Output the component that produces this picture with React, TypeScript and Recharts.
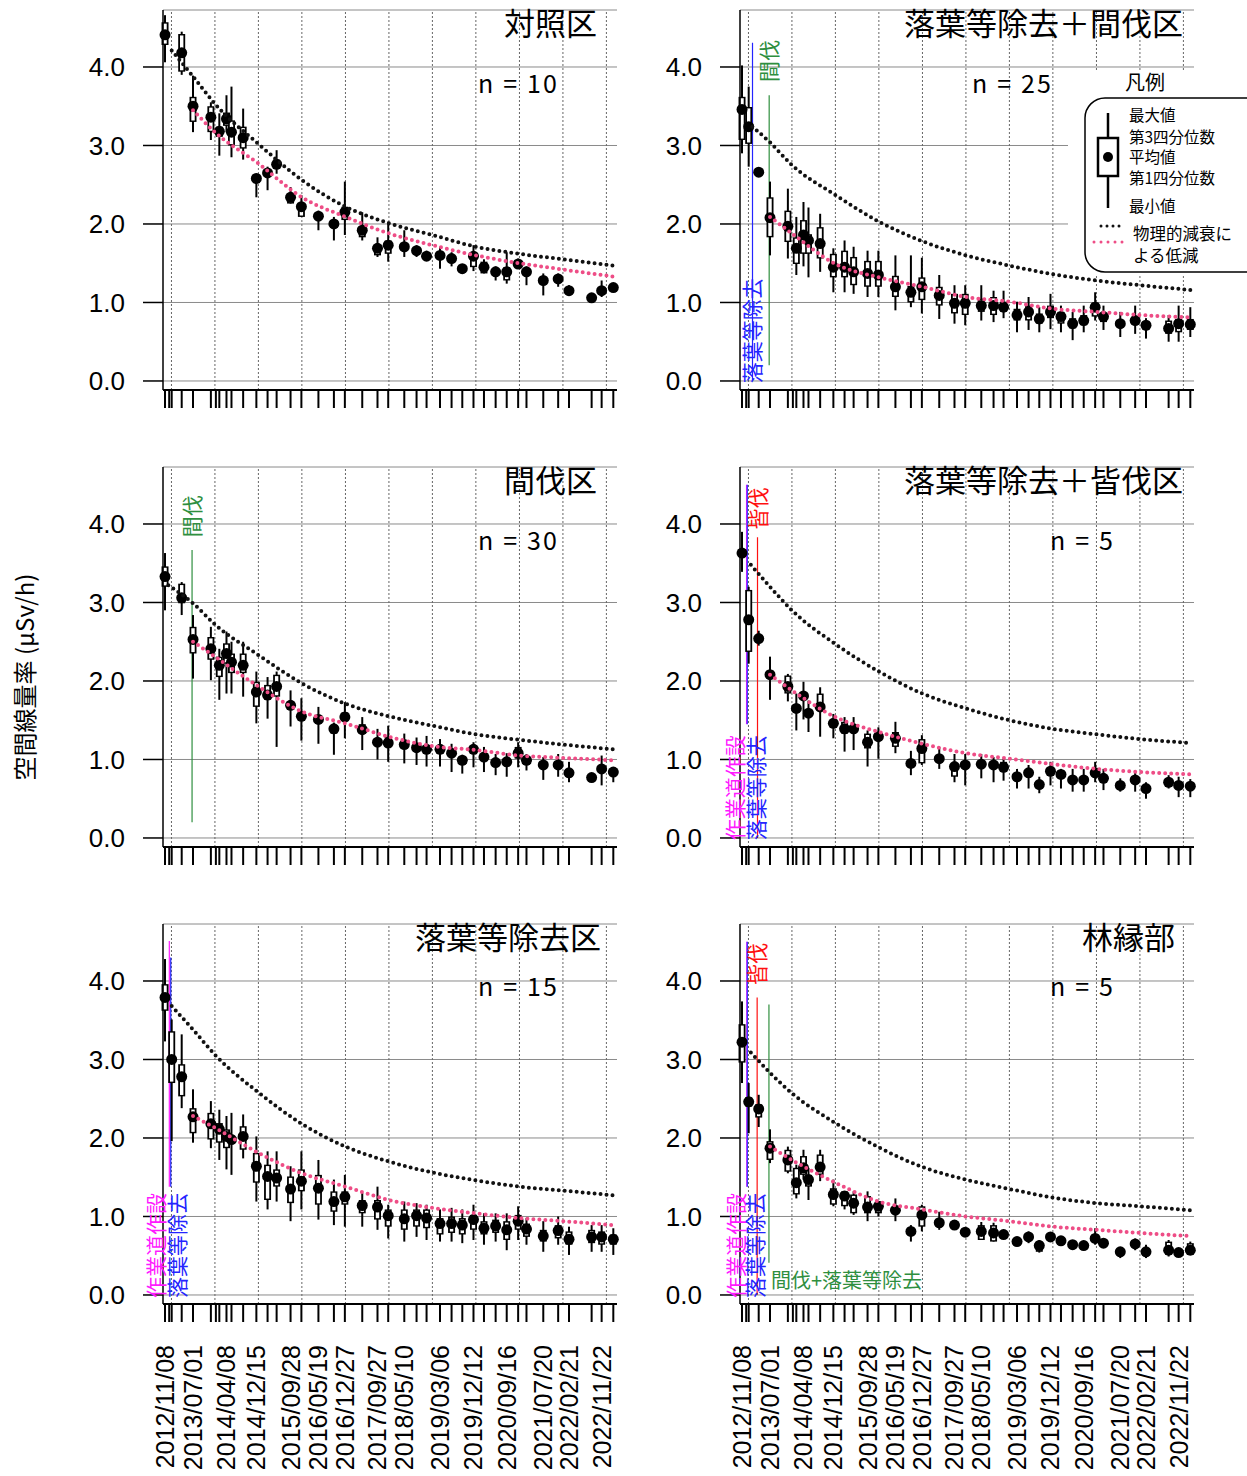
import React from 'react';
import {
  ComposedChart,
  XAxis,
  YAxis,
  CartesianGrid,
  Scatter,
  ErrorBar,
  Line,
  ReferenceLine,
} from 'recharts';

// measurement dates (one tick each)
const measureDates = [
  '2012/11/08', '2012/12/13', '2013/01/03', '2013/03/28', '2013/07/01', '2013/11/28', '2014/01/09', '2014/02/07', '2014/04/08', '2014/05/20',
  '2014/08/26', '2014/12/15', '2015/03/19', '2015/06/03', '2015/09/28', '2015/12/28', '2016/05/19', '2016/09/26', '2016/12/27', '2017/05/22',
  '2017/09/27', '2017/12/26', '2018/05/10', '2018/08/21', '2018/11/13', '2019/03/06', '2019/06/11', '2019/09/09', '2019/12/12', '2020/03/09',
  '2020/06/15', '2020/09/16', '2020/12/21', '2021/03/01', '2021/07/20', '2021/11/22', '2022/02/21', '2022/08/30', '2022/11/22', '2023/02/28',
];

const labelDates = [
  '2012/11/08', '2013/07/01', '2014/04/08', '2014/12/15', '2015/09/28', '2016/05/19', '2016/12/27', '2017/09/27',
  '2018/05/10', '2019/03/06', '2019/12/12', '2020/09/16', '2021/07/20', '2022/02/21', '2022/11/22',
];

const yearDates = [
  '2013/01/01', '2014/01/01', '2015/01/01', '2016/01/01', '2017/01/01', '2018/01/01',
  '2019/01/01', '2020/01/01', '2021/01/01', '2022/01/01', '2023/01/01',
];

const yTicks = [0, 1, 2, 3, 4];

// [min, q1, mean, q3, max]
type Stat = [number, number, number, number, number] | null;

const ctrlStats: Stat[] = [
  [4.06, 4.28, 4.41, 4.57, 4.66], null, null, [3.90, 3.94, 4.18, 4.42, 4.45], [3.17, 3.30, 3.50, 3.62, 3.89],
  [3.07, 3.17, 3.36, 3.50, 3.55], null, [2.87, 3.11, 3.18, 3.24, 3.41], [3.17, 3.25, 3.34, 3.42, 3.64], [2.85, 3.00, 3.17, 3.32, 3.75],
  [2.82, 2.96, 3.10, 3.24, 3.47], [2.34, 2.52, 2.58, 2.63, 2.64], [2.43, 2.60, 2.65, 2.70, 2.73], [2.64, 2.72, 2.76, 2.82, 2.94], [2.26, 2.26, 2.34, 2.39, 2.47],
  [2.09, 2.09, 2.22, 2.26, 2.37], [1.92, 2.06, 2.10, 2.14, 2.17], [1.79, 1.95, 2.00, 2.05, 2.09], [1.86, 2.05, 2.15, 2.22, 2.54], [1.79, 1.83, 1.92, 1.96, 2.15],
  [1.58, 1.60, 1.69, 1.73, 1.83], [1.52, 1.62, 1.73, 1.79, 2.03], [1.58, 1.66, 1.71, 1.75, 1.92], [1.58, 1.62, 1.66, 1.70, 1.73], [1.53, 1.56, 1.59, 1.62, 1.66],
  [1.43, 1.56, 1.60, 1.64, 1.71], [1.46, 1.53, 1.56, 1.59, 1.64], [1.38, 1.40, 1.43, 1.46, 1.48], [1.40, 1.45, 1.59, 1.64, 1.73], [1.37, 1.37, 1.45, 1.52, 1.55],
  [1.28, 1.36, 1.39, 1.42, 1.46], [1.24, 1.28, 1.39, 1.45, 1.64], [1.45, 1.46, 1.49, 1.52, 1.56], [1.22, 1.34, 1.39, 1.42, 1.46], [1.09, 1.24, 1.28, 1.32, 1.37],
  [1.20, 1.27, 1.30, 1.33, 1.37], [1.09, 1.12, 1.15, 1.18, 1.22], [1.00, 1.03, 1.06, 1.09, 1.11], [1.07, 1.12, 1.15, 1.18, 1.28], [1.15, 1.16, 1.19, 1.22, 1.24],
];

const litterThinStats: Stat[] = [
  [2.90, 3.07, 3.46, 3.62, 4.02], null, [2.73, 3.02, 3.24, 3.49, 3.75], [2.60, 2.63, 2.66, 2.69, 2.72], [1.60, 1.83, 2.08, 2.34, 2.54],
  [1.56, 1.77, 1.97, 2.17, 2.45], null, [1.35, 1.49, 1.69, 1.83, 2.09], [1.46, 1.62, 1.86, 2.05, 2.28], [1.32, 1.62, 1.79, 1.87, 2.21],
  [1.39, 1.56, 1.75, 1.96, 2.13], [1.13, 1.32, 1.45, 1.62, 1.69], [1.13, 1.32, 1.45, 1.66, 1.79], [1.11, 1.22, 1.39, 1.58, 1.71], [1.07, 1.20, 1.37, 1.53, 1.66],
  [1.07, 1.20, 1.35, 1.53, 1.66], [0.90, 1.07, 1.20, 1.34, 1.60], [0.94, 1.00, 1.13, 1.21, 1.60], [0.86, 1.03, 1.20, 1.32, 1.57], [0.79, 0.96, 1.09, 1.20, 1.35],
  [0.73, 0.86, 0.99, 1.11, 1.22], [0.71, 0.84, 0.99, 1.11, 1.22], [0.77, 0.88, 0.96, 1.05, 1.22], [0.75, 0.84, 0.96, 1.07, 1.15], [0.80, 0.88, 0.94, 1.01, 1.15],
  [0.62, 0.77, 0.84, 0.92, 1.01], [0.65, 0.77, 0.88, 0.96, 1.07], [0.62, 0.73, 0.79, 0.86, 0.94], [0.66, 0.80, 0.88, 0.96, 1.11], [0.62, 0.73, 0.82, 0.88, 0.96],
  [0.52, 0.67, 0.73, 0.80, 0.88], [0.62, 0.71, 0.77, 0.84, 0.96], [0.77, 0.82, 0.94, 1.00, 1.13], [0.65, 0.75, 0.82, 0.86, 0.96], [0.56, 0.69, 0.73, 0.77, 0.88],
  [0.60, 0.72, 0.77, 0.82, 0.96], [0.54, 0.67, 0.71, 0.75, 0.80], [0.50, 0.60, 0.67, 0.77, 0.84], [0.50, 0.62, 0.73, 0.79, 0.96], [0.56, 0.65, 0.72, 0.79, 0.94],
];

const thinStats: Stat[] = [
  [2.90, 3.20, 3.33, 3.46, 3.63], null, null, [2.84, 2.99, 3.06, 3.24, 3.26], [2.03, 2.35, 2.53, 2.69, 2.84],
  [2.01, 2.27, 2.41, 2.56, 2.69], null, [1.76, 2.05, 2.20, 2.31, 2.41], [1.84, 2.22, 2.35, 2.48, 2.63], [1.84, 2.10, 2.24, 2.35, 2.50],
  [1.80, 2.10, 2.20, 2.35, 2.50], [1.46, 1.67, 1.86, 1.99, 2.12], [1.52, 1.76, 1.82, 1.95, 2.05], [1.16, 1.80, 1.93, 2.08, 2.12], [1.42, 1.64, 1.69, 1.74, 1.88],
  [1.24, 1.50, 1.55, 1.60, 1.78], [1.20, 1.46, 1.51, 1.56, 1.67], [1.06, 1.33, 1.39, 1.44, 1.47], [1.27, 1.50, 1.54, 1.60, 1.73], [1.12, 1.33, 1.38, 1.45, 1.54],
  [1.00, 1.18, 1.22, 1.26, 1.39], [0.97, 1.16, 1.21, 1.29, 1.43], [0.95, 1.15, 1.19, 1.23, 1.33], [0.93, 1.11, 1.15, 1.19, 1.28], [0.91, 1.09, 1.13, 1.17, 1.30],
  [0.91, 1.09, 1.13, 1.17, 1.26], [0.84, 1.04, 1.08, 1.12, 1.20], [0.82, 0.95, 0.99, 1.03, 1.06], [0.90, 1.08, 1.13, 1.18, 1.22], [0.84, 0.99, 1.03, 1.07, 1.16],
  [0.80, 0.92, 0.96, 1.00, 1.07], [0.78, 0.93, 0.97, 1.01, 1.08], [0.90, 1.01, 1.08, 1.16, 1.22], [0.86, 0.95, 0.99, 1.03, 1.07], [0.74, 0.89, 0.93, 0.97, 1.03],
  [0.78, 0.89, 0.93, 0.97, 1.07], [0.71, 0.79, 0.83, 0.87, 0.97], [0.71, 0.74, 0.77, 0.80, 0.82], [0.67, 0.84, 0.88, 0.92, 1.05], [0.71, 0.80, 0.84, 0.88, 0.90],
];

const litterClearStats: Stat[] = [
  [3.39, 3.58, 3.63, 3.68, 3.90], null, [2.22, 2.37, 2.78, 3.16, 3.20], [2.45, 2.50, 2.54, 2.58, 2.64], [1.76, 2.03, 2.08, 2.13, 2.31],
  [1.74, 1.84, 1.93, 2.07, 2.09], null, [1.37, 1.60, 1.65, 1.70, 1.84], [1.51, 1.76, 1.81, 1.86, 1.99], [1.35, 1.55, 1.59, 1.63, 1.75],
  [1.29, 1.63, 1.67, 1.84, 1.92], [1.27, 1.42, 1.46, 1.50, 1.58], [1.10, 1.33, 1.39, 1.48, 1.54], [1.12, 1.35, 1.39, 1.43, 1.54], [0.91, 1.14, 1.22, 1.33, 1.37],
  [1.01, 1.25, 1.29, 1.33, 1.41], [1.08, 1.16, 1.27, 1.35, 1.48], [0.80, 0.91, 0.95, 0.99, 1.11], [0.93, 0.95, 1.14, 1.26, 1.31], [0.88, 0.97, 1.01, 1.05, 1.16],
  [0.71, 0.78, 0.91, 0.93, 1.07], [0.67, 0.89, 0.93, 0.97, 1.07], [0.76, 0.90, 0.94, 0.98, 1.07], [0.71, 0.89, 0.93, 0.97, 1.03], [0.73, 0.84, 0.90, 0.97, 1.01],
  [0.63, 0.74, 0.78, 0.82, 0.88], [0.63, 0.79, 0.83, 0.87, 0.93], [0.57, 0.64, 0.68, 0.72, 0.78], [0.67, 0.81, 0.85, 0.89, 0.97], [0.63, 0.77, 0.81, 0.85, 0.88],
  [0.59, 0.70, 0.74, 0.78, 0.88], [0.59, 0.70, 0.74, 0.78, 0.88], [0.71, 0.79, 0.83, 0.87, 0.97], [0.61, 0.72, 0.76, 0.80, 0.88], [0.59, 0.63, 0.67, 0.71, 0.76],
  [0.59, 0.70, 0.74, 0.78, 0.84], [0.50, 0.59, 0.63, 0.67, 0.71], [0.63, 0.67, 0.71, 0.75, 0.80], [0.52, 0.63, 0.67, 0.71, 0.78], [0.52, 0.62, 0.66, 0.70, 0.75],
];

const litterStats: Stat[] = [
  [3.23, 3.62, 3.79, 3.96, 4.28], null, [1.96, 2.70, 3.00, 3.36, 3.51], [2.38, 2.53, 2.78, 2.94, 3.32], [1.94, 2.06, 2.27, 2.38, 2.62],
  [1.87, 1.98, 2.18, 2.32, 2.47], null, [1.72, 1.94, 2.11, 2.19, 2.36], [1.60, 1.87, 2.02, 2.11, 2.28], [1.53, 1.93, 1.98, 2.03, 2.32],
  [1.74, 1.85, 2.02, 2.15, 2.30], [1.19, 1.43, 1.64, 1.81, 2.02], [1.09, 1.21, 1.51, 1.66, 1.83], [1.19, 1.38, 1.49, 1.60, 1.83], [0.94, 1.17, 1.35, 1.51, 1.64],
  [1.09, 1.32, 1.45, 1.60, 1.83], [0.96, 1.15, 1.36, 1.53, 1.72], [0.89, 1.06, 1.19, 1.32, 1.47], [0.87, 1.15, 1.25, 1.32, 1.53], [0.87, 1.04, 1.14, 1.21, 1.30],
  [0.83, 0.96, 1.12, 1.21, 1.38], [0.72, 0.87, 1.01, 1.09, 1.15], [0.68, 0.83, 0.97, 1.09, 1.19], [0.74, 0.87, 1.01, 1.09, 1.17], [0.70, 0.85, 0.98, 1.09, 1.15],
  [0.68, 0.77, 0.91, 0.98, 1.09], [0.68, 0.79, 0.91, 1.00, 1.11], [0.66, 0.77, 0.89, 0.98, 1.09], [0.70, 0.83, 0.96, 1.02, 1.15], [0.64, 0.77, 0.85, 0.94, 1.04],
  [0.68, 0.79, 0.88, 0.96, 1.04], [0.57, 0.70, 0.83, 0.94, 1.04], [0.70, 0.83, 0.94, 1.02, 1.13], [0.64, 0.74, 0.84, 0.91, 0.98], [0.55, 0.68, 0.75, 0.83, 0.94],
  [0.64, 0.72, 0.82, 0.89, 1.00], [0.51, 0.64, 0.71, 0.81, 0.87], [0.55, 0.66, 0.74, 0.83, 0.89], [0.55, 0.64, 0.74, 0.81, 0.89], [0.51, 0.64, 0.71, 0.77, 0.85],
];

const edgeStats: Stat[] = [
  [2.70, 2.96, 3.22, 3.45, 3.74], null, [2.06, 2.40, 2.46, 2.52, 2.70], [2.14, 2.26, 2.37, 2.43, 2.55], [1.68, 1.72, 1.87, 1.96, 2.11],
  [1.55, 1.57, 1.72, 1.85, 1.89], null, [1.23, 1.28, 1.43, 1.62, 1.66], [1.47, 1.53, 1.62, 1.77, 1.85], [1.21, 1.38, 1.47, 1.53, 1.62],
  [1.45, 1.53, 1.63, 1.79, 1.85], [1.13, 1.15, 1.28, 1.36, 1.47], [1.09, 1.13, 1.26, 1.32, 1.32], [1.02, 1.04, 1.17, 1.28, 1.32], [0.94, 1.04, 1.12, 1.26, 1.32],
  [1.00, 1.04, 1.13, 1.19, 1.19], [0.94, 1.04, 1.08, 1.12, 1.23], [0.68, 0.77, 0.81, 0.85, 0.89], [0.81, 0.87, 1.02, 1.13, 1.15], [0.83, 0.88, 0.92, 0.96, 1.06],
  [0.85, 0.86, 0.89, 0.92, 0.94], [0.76, 0.77, 0.80, 0.83, 0.85], [0.70, 0.70, 0.81, 0.89, 0.93], [0.68, 0.68, 0.79, 0.89, 0.92], [0.72, 0.74, 0.77, 0.80, 0.83],
  [0.64, 0.65, 0.68, 0.71, 0.73], [0.66, 0.70, 0.74, 0.78, 0.81], [0.54, 0.55, 0.63, 0.68, 0.70], [0.70, 0.71, 0.74, 0.77, 0.80], [0.63, 0.66, 0.69, 0.72, 0.75],
  [0.59, 0.61, 0.64, 0.67, 0.70], [0.57, 0.60, 0.63, 0.66, 0.69], [0.64, 0.69, 0.72, 0.77, 0.85], [0.62, 0.63, 0.66, 0.69, 0.72], [0.47, 0.52, 0.55, 0.58, 0.61],
  [0.57, 0.62, 0.65, 0.68, 0.72], [0.47, 0.52, 0.55, 0.58, 0.64], [0.49, 0.51, 0.57, 0.68, 0.70], [0.51, 0.51, 0.54, 0.57, 0.60], [0.51, 0.51, 0.57, 0.66, 0.68],
];

// reference curves read at these dates (physical decay = black, trend = pink)
const curveDates = [
  '2013/07/01', '2014/01/01', '2015/01/01', '2016/01/01', '2017/01/01', '2018/01/01',
  '2019/01/01', '2020/01/01', '2021/01/01', '2022/01/01', '2023/02/28',
];

const ctrlPhysStart: [string, number] = ['2013/01/03', 4.21];
const ctrlPhys = [3.88, 3.53, 3.02, 2.56, 2.22, 2.01, 1.86, 1.71, 1.62, 1.55, 1.47];
const ctrlTrend = [3.45, 3.17, 2.77, 2.34, 2.09, 1.88, 1.73, 1.60, 1.50, 1.42, 1.33];

const litterThinPhysStart: [string, number] = ['2013/02/02', 3.24];
const litterThinPhys = [3.04, 2.75, 2.37, 2.03, 1.78, 1.60, 1.47, 1.36, 1.28, 1.22, 1.16];
const litterThinTrend = [2.09, 1.88, 1.49, 1.32, 1.20, 1.07, 1.01, 0.92, 0.88, 0.84, 0.81];

const thinPhysStart: [string, number] = ['2012/12/06', 3.22];
const thinPhys = [2.99, 2.72, 2.33, 1.97, 1.71, 1.55, 1.43, 1.32, 1.25, 1.19, 1.13];
const thinTrend = [2.50, 2.31, 1.93, 1.61, 1.46, 1.29, 1.17, 1.12, 1.05, 1.02, 0.99];

const litterClearPhysStart: [string, number] = ['2013/01/21', 3.48];
const litterClearPhys = [3.20, 2.90, 2.47, 2.12, 1.84, 1.65, 1.50, 1.39, 1.32, 1.26, 1.21];
const litterClearTrend = [2.08, 1.88, 1.54, 1.35, 1.20, 1.08, 1.01, 0.94, 0.88, 0.84, 0.81];

const litterPhysStart: [string, number] = ['2013/01/03', 3.68];
const litterPhys = [3.38, 3.06, 2.58, 2.18, 1.89, 1.70, 1.56, 1.46, 1.38, 1.33, 1.27];
const litterTrend = [2.28, 2.13, 1.81, 1.55, 1.38, 1.21, 1.11, 1.04, 0.98, 0.94, 0.89];

const edgePhysStart: [string, number] = ['2013/01/21', 3.09];
const edgePhys = [2.83, 2.57, 2.19, 1.88, 1.63, 1.47, 1.35, 1.24, 1.17, 1.13, 1.08];
const edgeTrend = [1.89, 1.72, 1.43, 1.19, 1.09, 1.00, 0.94, 0.87, 0.83, 0.79, 0.75];

const BLUE = '#2424ff';
const MAGENTA = '#ff1aff';
const RED = '#ff1010';
const GREEN = '#2f8f3f';
const PINK = '#ee4d86';
const CJK = '"Noto Sans CJK JP", "Noto Sans CJK SC", sans-serif';
const SANS = '"Liberation Sans", Arial, sans-serif';

type EventCfg = {
  date: string; color: string; top: number; bottom: number;
  label: string; labelAt: number; dx: number; flat?: boolean;
};

const dayOf = (s: string) => {
  const [y, m, d] = s.split('/').map(Number);
  return (Date.UTC(y, m - 1, d) - Date.UTC(2012, 10, 8)) / 86400000;
};

const tickDays = measureDates.map(dayOf);
const yearDays = yearDates.map(dayOf);
const labelByDay = new Map(labelDates.map((d) => [dayOf(d), d]));

const panels = [
  { title: '対照区', n: '10', stats: ctrlStats, physStart: ctrlPhysStart, phys: ctrlPhys, trend: ctrlTrend, col: 0, row: 0, events: [] as EventCfg[] },
  {
    title: '落葉等除去＋間伐区', n: '25', stats: litterThinStats, physStart: litterThinPhysStart, phys: litterThinPhys, trend: litterThinTrend, col: 1, row: 0,
    events: [
      { date: '2013/02/04', color: BLUE, top: 4.31, bottom: 0, label: '落葉等除去', labelAt: -0.03, dx: 0 },
      { date: '2013/06/24', color: GREEN, top: 3.64, bottom: 0.2, label: '間伐', labelAt: 3.81, dx: 0 },
    ],
  },
  {
    title: '間伐区', n: '30', stats: thinStats, physStart: thinPhysStart, phys: thinPhys, trend: thinTrend, col: 0, row: 1,
    events: [{ date: '2013/06/23', color: GREEN, top: 3.67, bottom: 0.2, label: '間伐', labelAt: 3.83, dx: 0 }],
  },
  {
    title: '落葉等除去＋皆伐区', n: '5', stats: litterClearStats, physStart: litterClearPhysStart, phys: litterClearPhys, trend: litterClearTrend, col: 1, row: 1,
    events: [
      { date: '2012/12/16', color: MAGENTA, top: 4.5, bottom: 1.45, label: '作業道作設', labelAt: -0.03, dx: -12 },
      { date: '2012/12/22', color: BLUE, top: 4.5, bottom: 1.45, label: '落葉等除去', labelAt: -0.03, dx: 9 },
      { date: '2013/03/18', color: RED, top: 3.83, bottom: 0, label: '皆伐', labelAt: 3.93, dx: 1 },
    ],
  },
  {
    title: '落葉等除去区', n: '15', stats: litterStats, physStart: litterPhysStart, phys: litterPhys, trend: litterTrend, col: 0, row: 2,
    events: [
      { date: '2012/12/14', color: MAGENTA, top: 4.51, bottom: 1.38, label: '作業道作設', labelAt: -0.04, dx: -13 },
      { date: '2012/12/26', color: BLUE, top: 4.3, bottom: 1.38, label: '落葉等除去', labelAt: -0.04, dx: 6 },
    ],
  },
  {
    title: '林縁部', n: '5', stats: edgeStats, physStart: edgePhysStart, phys: edgePhys, trend: edgeTrend, col: 1, row: 2,
    events: [
      { date: '2012/12/18', color: MAGENTA, top: 4.5, bottom: 1.38, label: '作業道作設', labelAt: -0.04, dx: -11 },
      { date: '2012/12/22', color: BLUE, top: 4.5, bottom: 1.38, label: '落葉等除去', labelAt: -0.04, dx: 8 },
      { date: '2013/03/15', color: RED, top: 3.79, bottom: 0, label: '皆伐', labelAt: 3.95, dx: 0 },
      { date: '2013/06/22', color: GREEN, top: 3.7, bottom: 0.41, label: '間伐+落葉等除去', labelAt: 0.09, dx: 2, flat: true },
    ],
  },
];

// title / n label placement (right edge for title, left edge for n)
const titlePos = [
  { x: 597, y: 35, nx: 478, ny: 93 },
  { x: 1183, y: 35, nx: 972, ny: 93 },
  { x: 597, y: 492, nx: 478, ny: 550 },
  { x: 1183, y: 492, nx: 1050, ny: 550 },
  { x: 601, y: 949, nx: 478, ny: 996 },
  { x: 1175, y: 949, nx: 1050, ny: 996 },
];

const EPS = 0.018;

function toBoxes(stats: Stat[]) {
  return stats.flatMap((s, i) => {
    if (!s) return [];
    const [lo, q1, m, q3, hi] = s;
    return [{
      t: tickDays[i],
      y: m,
      whisker: [Math.max(0, m - lo), Math.max(0, hi - m)],
      box: [Math.max(0, m - q1), Math.max(0, q3 - m)],
      inner: [Math.max(0, m - q1 - EPS), Math.max(0, q3 - m - EPS)],
    }];
  });
}

function DateTick(props: any) {
  const label = labelByDay.get(props.payload?.value);
  if (!label) return null;
  return (
    <text
      transform={`translate(${props.x},${props.y}) rotate(-90)`}
      dy="0.36em"
      textAnchor="end"
      fontSize={25}
      fontFamily={SANS}
      fill="#000"
    >
      {label}
    </text>
  );
}

const MeanDot = (p: any) => <circle cx={p.cx} cy={p.cy} r={5.5} fill="#000" />;

function eventLabel(ev: EventCfg) {
  return (p: any) => {
    if (ev.flat) {
      return (
        <text x={p.cx + ev.dx} y={p.cy} fill={ev.color} fontSize={20} fontFamily={CJK}>
          {ev.label}
        </text>
      );
    }
    return (
      <text
        transform={`translate(${p.cx + ev.dx},${p.cy}) rotate(-90)`}
        dy="0.38em"
        fill={ev.color}
        fontSize={21}
        fontFamily={CJK}
      >
        {ev.label}
      </text>
    );
  };
}

function Panel({ p }: { p: (typeof panels)[number] }) {
  const bottomRow = p.row === 2;
  const h = bottomRow ? 562 : 457;
  const axisH = bottomRow ? 165 : 60;
  const boxes = toBoxes(p.stats);
  const phys = [
    { t: dayOf(p.physStart[0]), y: p.physStart[1] },
    ...curveDates.map((d, i) => ({ t: dayOf(d), y: p.phys[i] })),
  ];
  const trend = curveDates.map((d, i) => ({ t: dayOf(d), y: p.trend[i] }));

  return (
    <div style={{ position: 'absolute', left: p.col * 577, top: p.row * 457 }}>
      <ComposedChart width={620} height={h} margin={{ top: 10, right: 3, left: 83, bottom: h - 390 - axisH }}>
        <CartesianGrid vertical={false} stroke="#8a8a8a" strokeWidth={1} />
        <XAxis
          type="number"
          dataKey="t"
          domain={[-17, 3795]}
          ticks={tickDays}
          interval={0}
          tickSize={18}
          tickMargin={23}
          height={axisH}
          tick={bottomRow ? <DateTick /> : () => null}
          tickLine={{ stroke: '#000', strokeWidth: 2 }}
          axisLine={{ stroke: '#000', strokeWidth: 2 }}
        />
        <YAxis
          type="number"
          domain={[-0.115, 4.726]}
          ticks={yTicks}
          interval={0}
          tickFormatter={(v: number) => v.toFixed(1)}
          tickSize={20}
          tickMargin={18}
          width={80}
          tick={{ fontSize: 26, fill: '#000', fontFamily: SANS }}
          tickLine={{ stroke: '#000', strokeWidth: 1.5 }}
          axisLine={{ stroke: '#000', strokeWidth: 1.5 }}
        />
        {yearDays.map((d) => (
          <ReferenceLine key={d} x={d} stroke="#666" strokeDasharray="2 2" strokeWidth={1} />
        ))}
        {p.events.map((ev, i) => (
          <ReferenceLine
            key={`ev${i}`}
            segment={[{ x: dayOf(ev.date), y: ev.top }, { x: dayOf(ev.date), y: ev.bottom }]}
            stroke={ev.color}
            strokeWidth={1.2}
          />
        ))}
        <Scatter data={boxes} dataKey="y" shape={() => <g />} isAnimationActive={false}>
          <ErrorBar dataKey="whisker" direction="y" width={0} stroke="#000" strokeWidth={2} isAnimationActive={false} />
          <ErrorBar dataKey="box" direction="y" width={0} stroke="#000" strokeWidth={7} isAnimationActive={false} />
          <ErrorBar dataKey="inner" direction="y" width={0} stroke="#fff" strokeWidth={3.4} isAnimationActive={false} />
        </Scatter>
        <Scatter data={boxes} dataKey="y" shape={MeanDot} isAnimationActive={false} />
        <Line
          data={phys}
          dataKey="y"
          type="monotone"
          stroke="#111"
          strokeWidth={4}
          strokeDasharray="0 6"
          strokeLinecap="round"
          dot={false}
          activeDot={false}
          isAnimationActive={false}
          zIndex={700}
        />
        <Line
          data={trend}
          dataKey="y"
          type="monotone"
          stroke={PINK}
          strokeWidth={4}
          strokeDasharray="0 6"
          strokeLinecap="round"
          dot={false}
          activeDot={false}
          isAnimationActive={false}
          zIndex={700}
        />
        {p.events.map((ev, i) => (
          <Scatter
            key={`lb${i}`}
            data={[{ t: dayOf(ev.date), y: ev.labelAt }]}
            dataKey="y"
            shape={eventLabel(ev)}
            isAnimationActive={false}
            zIndex={800}
          />
        ))}
      </ComposedChart>
    </div>
  );
}

const legendRows: [string, number][] = [
  ['最大値', 121], ['第3四分位数', 143], ['平均値', 163], ['第1四分位数', 184], ['最小値', 212],
];

function Overlay() {
  return (
    <svg width={1247} height={1476} style={{ position: 'absolute', left: 0, top: 0, pointerEvents: 'none' }}>
      {panels.map((p, i) => (
        <g key={i}>
          <text x={titlePos[i].x} y={titlePos[i].y} textAnchor="end" fontSize={31} fontFamily={CJK} fill="#000">
            {p.title}
          </text>
          <text
            x={titlePos[i].nx}
            y={titlePos[i].ny}
            fontSize={25}
            fontFamily={CJK}
            fill="#000"
            textLength={p.n.length === 1 ? 63 : 79}
            lengthAdjust="spacing"
          >
            {`n = ${p.n}`}
          </text>
        </g>
      ))}

      <text transform="translate(25,677) rotate(-90)" textAnchor="middle" dy="0.36em" fontSize={24} fontFamily={CJK} fill="#000">
        空間線量率 (μSv/h)
      </text>

      {/* legend */}
      <rect x={1068} y={70} width={179} height={204} fill="#fff" />
      <text x={1125} y={90} fontSize={20} fontFamily={CJK} fill="#000">凡例</text>
      <rect x={1085} y={98} width={190} height={174} rx={20} ry={20} fill="#fff" stroke="#000" strokeWidth={1.5} />
      <line x1={1108} y1={113} x2={1108} y2={208} stroke="#000" strokeWidth={2.5} />
      <rect x={1098} y={138} width={20} height={38} fill="#fff" stroke="#000" strokeWidth={2.5} />
      <circle cx={1108} cy={157} r={5} fill="#000" />
      {legendRows.map(([t, y]) => (
        <text key={t} x={1129} y={y} fontSize={15.5} fontFamily={CJK} fill="#000">{t}</text>
      ))}
      <line x1={1101} y1={226} x2={1123} y2={226} stroke="#111" strokeWidth={3} strokeDasharray="0 6" strokeLinecap="round" />
      <line x1={1094} y1={242} x2={1123} y2={242} stroke={PINK} strokeWidth={3} strokeDasharray="0 7" strokeLinecap="round" />
      <text x={1133} y={240} fontSize={16.5} fontFamily={CJK} fill="#000">物理的減衰に</text>
      <text x={1133} y={262} fontSize={16.5} fontFamily={CJK} fill="#000">よる低減</text>
    </svg>
  );
}

export default function App() {
  return (
    <div style={{ position: 'absolute', left: 0, top: 0, width: 1247, height: 1476, background: '#fff', overflow: 'hidden' }}>
      {panels.map((p, i) => (
        <Panel key={i} p={p} />
      ))}
      <Overlay />
    </div>
  );
}
